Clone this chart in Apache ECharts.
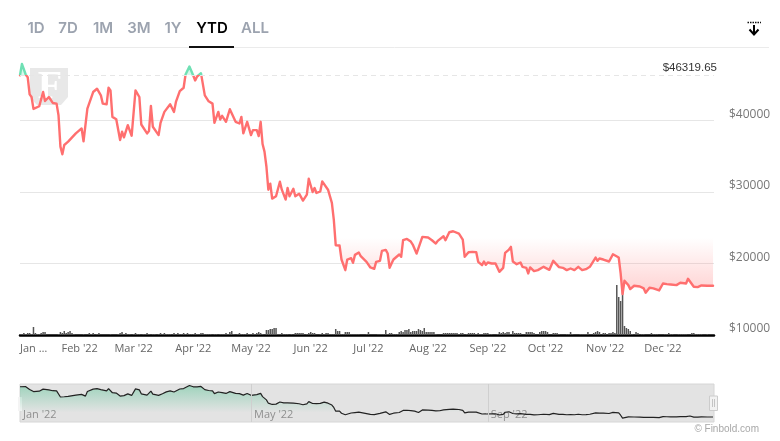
<!DOCTYPE html>
<html>
<head>
<meta charset="utf-8">
<title>Bitcoin YTD</title>
<style>
    html, body { margin: 0; padding: 0; background: #fff; }
    #main { width: 780px; height: 441px; }
</style>
<script src="https://cdn.jsdelivr.net/npm/echarts@6/dist/echarts.min.js"></script>
</head>
<body>
<div id="main"></div>
<script>
const priceDays = [
    0,1,3,4,5,6,7,8,10,12,13,15,16,17,19,20,21,22,23,25,26,29,30,32,33,34,35,36,38,40,
    42,43,45,46,47,48,50,52,53,54,56,57,58,60,61,62,63,64,66,67,68,69,70,72,73,74,75,76,78,80,
    81,83,85,86,88,90,91,92,93,94,95,96,97,98,99,100,101,103,104,105,106,107,109,110,112,114,115,116,118,120,
    121,123,124,125,126,127,128,129,130,131,133,135,136,137,138,139,140,142,143,145,147,149,150,151,152,153,154,156,157,158,
    160,161,162,163,164,165,166,167,168,169,170,172,173,174,176,177,180,182,184,185,187,188,190,191,192,193,194,197,198,199,
    201,203,204,205,206,207,209,210,212,214,216,217,218,220,221,223,225,228,230,231,233,234,235,237,238,240,241,242,243,245,
    247,249,251,252,254,255,256,257,258,260,261,263,264,265,267,269,272,273,275,277,278,280,282,284,286,288,290,292,294,296,
    297,299,300,301,303,306,307,308,309,311,312,313,314,316,317,319,322,324,325,327,329,332,334,336,338,339,341,343,346,347,
    348,350,352,353,354,357,360
];
const prices = [
    46320,47917,46400,46065,43658,43287,41620,41806,41990,43982,42732,43287,43195,42454,42361,40740,36342,35277,36574,37037,37037,38194,38194,38889,37083,37176,41667,41667,43982,44445,
    43519,42361,42269,44584,44213,40509,40185,37268,38426,37639,39352,39213,37870,44213,44491,43287,39444,39491,38194,38518,42037,39120,38889,37963,39676,39491,41204,41343,42269,41204,
    42593,44120,44584,46436,47547,46297,45602,46158,46065,46621,46400,43519,43611,42685,42824,42361,39676,41204,40139,40648,40417,39815,41574,41343,39815,39583,40509,38194,39815,37963,
    38657,38657,37824,39815,36713,35648,33564,30323,31157,29073,29398,31435,30323,30555,28934,30555,29398,30462,29398,29768,28796,29629,31851,31944,30000,30555,29860,30092,31481,31388,
    30323,30231,28471,26150,22558,22325,22511,20558,20465,19070,20558,20744,20093,21209,21535,21023,20233,19442,19256,20233,20372,21767,21907,21395,19400,20000,20558,21255,20930,23255,
    23441,23069,22651,22651,21395,21302,23720,23906,23627,23255,22790,23162,22976,23813,23255,24371,24511,24185,23348,20930,21581,21488,21628,21581,20233,19767,20279,19814,20140,20000,
    20000,18837,19395,21488,21953,22325,20279,20325,19907,20140,19535,19395,18605,19442,18930,19070,19535,19395,19116,20372,20093,19488,19395,19070,19302,19070,19535,19070,19209,19535,
    19395,20837,20372,20697,20558,20279,20233,21302,21395,20837,18605,15721,17581,16976,16419,16884,16791,16512,15907,16605,16512,16233,17209,17116,17070,17209,16977,17302,17209,17860,
    17860,16744,16698,16512,16930,16884,16884
];
// daily traded volume, one entry per day from 1 Jan
const volumes = [
    1,1,2,1,2,2,1,8,2,1,1,2,3,3,0,0,0,0,0,0,1,3,2,4,2,3,4,2,1,0,0,
    0,0,1,0,0,2,1,2,0,1,2,0,0,0,0,0,1,0,0,0,1,2,3,1,2,1,1,0,
    1,2,1,1,0,1,1,2,1,0,1,1,0,1,2,1,2,1,1,1,0,2,1,2,1,1,2,1,2,1,1,
    1,2,1,1,2,2,1,1,1,1,0,1,1,0,1,1,1,2,1,3,4,1,0,1,2,1,1,1,2,1,
    1,2,1,2,3,2,1,0,5,5,6,6,7,7,1,1,2,1,1,1,0,1,0,2,2,2,2,2,0,1,2,
    3,2,2,0,0,1,2,1,2,2,1,1,1,6,4,4,1,1,3,3,3,1,1,1,1,1,0,0,0,1,
    3,0,0,0,0,1,1,1,1,5,1,2,2,1,1,1,3,4,3,5,5,6,3,4,4,4,6,5,4,7,3,
    3,3,3,3,1,0,0,0,2,2,2,2,2,2,2,2,1,2,2,0,1,2,2,2,2,1,2,1,1,2,2,
    2,1,1,0,0,1,3,2,3,2,3,3,1,4,2,2,2,2,0,0,3,3,3,3,2,0,0,3,4,4,4,
    3,0,0,2,2,2,1,0,0,0,1,1,3,1,0,0,0,1,1,1,1,3,0,0,2,3,4,3,0,2,2,0,
    2,2,3,2,50,38,34,47,9,7,6,4,1,0,3,2,0,1,1,0,0,0,2,1,1,1,0,0,0,1,
    1,2,1,1,0,0,1,1,1,1,1,0,0,2,2,1,1,1,1,0,0,1,0,0,0,0,0,0
];
const baselinePrice = 46319.65;
const priceTicks = [10000, 20000, 30000, 40000, 50000];
const monthDays = [0, 31, 59, 90, 120, 151, 181, 212, 243, 273, 304, 334];
const monthLabels = ["Jan \u2026", "Feb '22", "Mar '22", "Apr '22", "May '22", "Jun '22", "Jul '22", "Aug '22", "Sep '22", "Oct '22", "Nov '22", "Dec '22"];
const navigatorDays = [0, 120, 243];
const navigatorLabels = ["Jan '22", "May '22", "Sep '22"];
const tabs = ["1D", "7D", "1M", "3M", "1Y", "YTD", "ALL"];
const tabCenters = [36, 68, 103, 139, 173, 212, 255];

const priceData = priceDays.map((d, i) => [d, prices[i]]);
const volumeData = volumes.map((v, i) => [i, v]);
const xMin = 0;
const xMax = 360.5;
const labelFont = "'Open Sans', sans-serif";

// pixel gradient: stops are fractions between y=49 and y=335
const lineColor = new echarts.graphic.LinearGradient(0, 49, 0, 335, [
    { offset: 0, color: "#6fe0b4" },
    { offset: 0.09, color: "#6fe0b4" },
    { offset: 0.09, color: "#ff6f6f" },
    { offset: 1, color: "#ff6f6f" },
], true);
const areaColor = new echarts.graphic.LinearGradient(0, 49, 0, 335, [
    { offset: 0, color: "rgba(111,224,180,0.7)" },
    { offset: 0.09, color: "rgba(111,224,180,0.35)" },
    { offset: 0.09, color: "rgba(255,111,111,0)" },
    { offset: 0.66, color: "rgba(255,111,111,0)" },
    { offset: 0.84, color: "rgba(255,111,111,0.42)" },
    { offset: 1, color: "rgba(255,111,111,0.42)" },
], true);
const miniArea = new echarts.graphic.LinearGradient(0, 384, 0, 422, [
    { offset: 0, color: "rgba(90,195,150,0.75)" },
    { offset: 0.75, color: "rgba(90,195,150,0)" },
    { offset: 1, color: "rgba(90,195,150,0)" },
], true);

const tabElements = [];
tabs.forEach((t, i) => {
    tabElements.push({
        type: "text",
        x: tabCenters[i],
        y: 28,
        style: {
            text: t,
            font: "600 15px Inter, sans-serif",
            fill: t === "YTD" ? "#000" : "#9ca3af",
            align: "center",
            verticalAlign: "middle",
        },
    });
});

var myChart = echarts.init(document.getElementById("main"), null, { renderer: "canvas" });
var option = {
    animation: false,
    backgroundColor: "#fff",
    grid: [
        { left: 20, right: 66, top: 49, height: 286 },
        {
            left: 20, right: 66, top: 384, height: 38, show: true,
            backgroundColor: "#e3e3e3", borderColor: "#d6d6d6", borderWidth: 1,
        },
    ],
    xAxis: [
        {
            type: "value", gridIndex: 0, min: xMin, max: xMax,
            axisLine: { onZero: false, lineStyle: { color: "#000", width: 2.5 } },
            axisTick: { show: false },
            splitLine: { show: false },
            axisLabel: {
                customValues: monthDays,
                formatter: (v) => monthLabels[monthDays.indexOf(v)],
                alignMinLabel: "left",
                hideOverlap: false,
                margin: 8,
                color: "#666",
                fontFamily: labelFont,
                fontSize: 11,
            },
        },
        {
            type: "value", gridIndex: 1, min: xMin, max: xMax,
            axisLine: { show: false },
            axisTick: { show: false },
            splitLine: { show: false },
            axisLabel: {
                customValues: navigatorDays,
                formatter: (v) => navigatorLabels[navigatorDays.indexOf(v)],
                inside: true,
                align: "left",
                alignMinLabel: "left",
                hideOverlap: false,
                margin: 2,
                padding: [0, 0, 0, 3],
                color: "#8f8f8f",
                fontFamily: labelFont,
                fontSize: 11,
            },
        },
    ],
    yAxis: [
        {
            type: "value", gridIndex: 0, position: "right",
            min: priceTicks[0], max: priceTicks[priceTicks.length - 1], interval: 10000,
            axisLine: { show: false },
            axisTick: { show: false },
            splitLine: { showMaxLine: false, lineStyle: { color: "#e6e6e6", width: 1 } },
            axisLabel: {
                showMaxLabel: false,
                margin: 15,
                verticalAlign: "bottom",
                formatter: (v) => "$" + v,
                color: "#777",
                fontFamily: labelFont,
                fontSize: 12,
            },
        },
        { type: "value", gridIndex: 0, min: 0, max: 286, show: false, splitLine: { show: false } },
        { type: "value", gridIndex: 1, min: 12000, max: 49000, show: false, splitLine: { show: false } },
    ],
    series: [
        {
            name: "Volume",
            type: "bar",
            xAxisIndex: 0,
            yAxisIndex: 1,
            data: volumeData,
            barWidth: 1.5,
            itemStyle: { color: "#555" },
            silent: true,
            z: 1,
        },
        {
            name: "Price",
            type: "line",
            xAxisIndex: 0,
            yAxisIndex: 0,
            data: priceData,
            showSymbol: false,
            lineStyle: { color: lineColor, width: 2.4, join: "round", cap: "round" },
            areaStyle: { color: areaColor, origin: baselinePrice },
            z: 3,
            markLine: {
                silent: true,
                symbol: "none",
                lineStyle: { color: "#e6e6e6", type: [5, 4], width: 1 },
                label: {
                    position: "insideEndTop",
                    distance: [-3, 1],
                    formatter: () => "$" + baselinePrice,
                    color: "#333",
                    fontFamily: "'Liberation Sans', sans-serif",
                    fontSize: 11.5,
                },
                data: [{ yAxis: baselinePrice }],
            },
        },
        {
            name: "Navigator",
            type: "line",
            xAxisIndex: 1,
            yAxisIndex: 2,
            data: priceData,
            showSymbol: false,
            lineStyle: { color: "#222", width: 1.2 },
            areaStyle: { color: miniArea, origin: "start" },
            z: 3,
            markLine: {
                silent: true,
                symbol: "none",
                label: { show: false },
                lineStyle: { color: "#cfcfcf", type: "solid", width: 1 },
                data: [{ xAxis: navigatorDays[1] }, { xAxis: navigatorDays[2] }],
            },
        },
    ],
    graphic: {
        elements: [
            ...tabElements,
            { type: "line", shape: { x1: 20, y1: 47.5, x2: 769, y2: 47.5 }, style: { stroke: "#ebebeb", lineWidth: 1 } },
            { type: "rect", shape: { x: 189, y: 46, width: 45, height: 2 }, style: { fill: "#111" } },
            // watermark
            {
                type: "polygon", z: 0,
                shape: { points: [[30, 68], [68, 68], [68, 97], [61, 105], [37, 105], [30, 97]] },
                style: { fill: "#e8e8e8" },
            },
            {
                type: "text", z: 0, x: 50, y: 88,
                style: { text: "F", font: "700 40px 'Liberation Serif', serif", fill: "#fff", align: "center", verticalAlign: "middle" },
            },
            // download icon
            { type: "line", shape: { x1: 747.5, y1: 22.5, x2: 761, y2: 22.5 }, style: { stroke: "#111", lineWidth: 1.5, lineDash: [1.5, 1] } },
            { type: "line", shape: { x1: 754, y1: 25, x2: 754, y2: 34 }, style: { stroke: "#000", lineWidth: 2 } },
            { type: "polyline", shape: { points: [[749.5, 29.5], [754, 34.5], [758.5, 29.5]] }, style: { stroke: "#000", fill: "none", lineWidth: 2 } },
            // navigator handles
            { type: "rect", shape: { x: 18, y: 397, width: 4, height: 14 }, style: { fill: "#f4f4f4" } },
            { type: "rect", shape: { x: 709.5, y: 396, width: 8, height: 14.5 }, style: { fill: "#f2f2f2", stroke: "#cccccc" } },
            { type: "line", shape: { x1: 712.5, y1: 399, x2: 712.5, y2: 407 }, style: { stroke: "#c4c4c4" } },
            { type: "line", shape: { x1: 714.5, y1: 399, x2: 714.5, y2: 407 }, style: { stroke: "#c4c4c4" } },
            {
                type: "text", x: 759, y: 429,
                style: { text: "\u00a9 Finbold.com", font: "10px 'Liberation Sans', sans-serif", fill: "#a8a8a8", align: "right", verticalAlign: "middle" },
            },
        ],
    },
};
myChart.setOption(option);
</script>
</body>
</html>
